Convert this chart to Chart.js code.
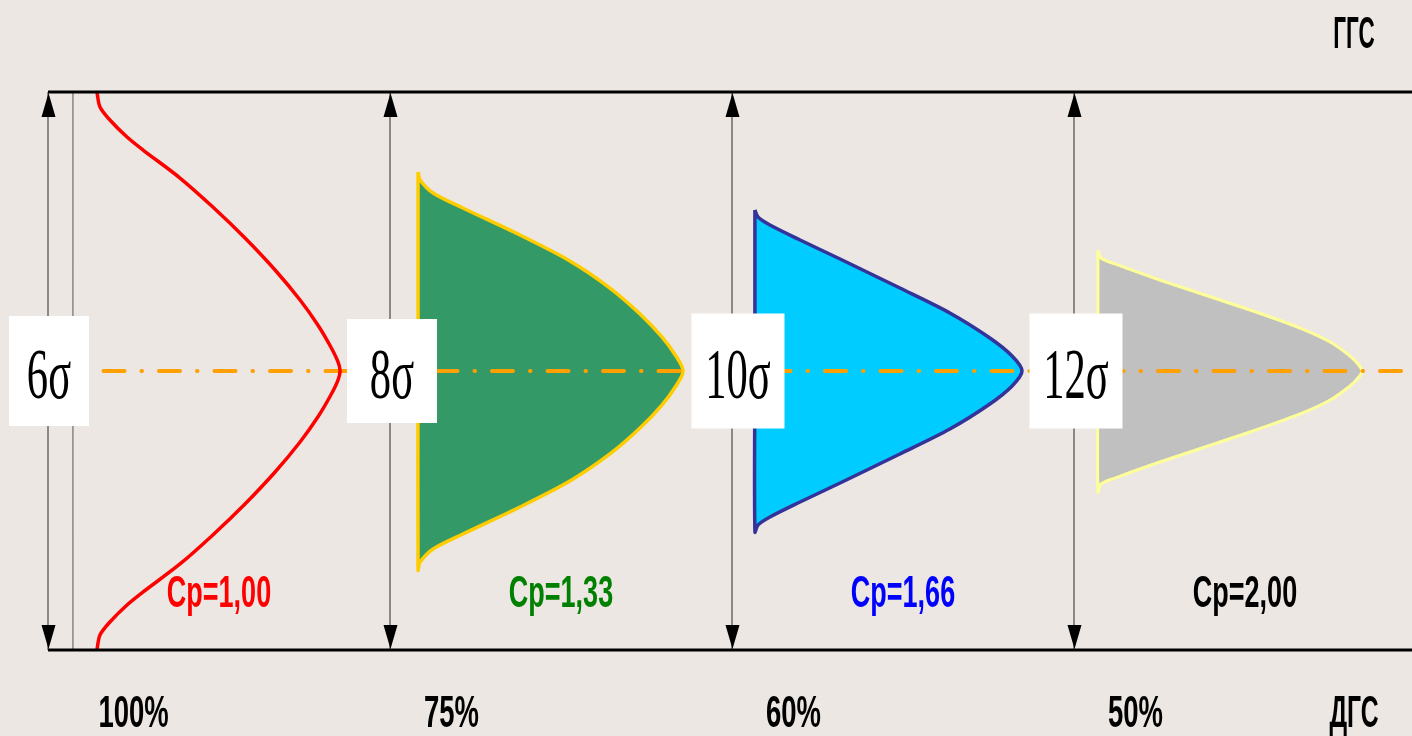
<!DOCTYPE html>
<html>
<head>
<meta charset="utf-8">
<script src="https://cdn.jsdelivr.net/npm/chart.js@4.4.0/dist/chart.umd.min.js"></script>
<style>
    html, body { margin: 0; padding: 0; background: #ece7e2; overflow: hidden; }
    #wrap { width: 1412px; height: 736px; position: relative; }
</style>
</head>
<body>
<div id="wrap"><canvas id="cp-chart"></canvas></div>
<script>
// tolerance field: y from ДГС (-3) to ГГС (+3), x in panel widths (one panel per Cp case)
const sigmaLabels = ['6σ', '8σ', '10σ', '12σ'];
const cpLabels = ['Cp=1,00', 'Cp=1,33', 'Cp=1,66', 'Cp=2,00'];
const cpColors = ['#ff0000', '#008000', '#0000ff', '#000000'];
const shareLabels = ['100%', '75%', '60%', '50%'];
const upperLabel = 'ГГС';
const lowerLabel = 'ДГС';

// upper halves of the distributions, from the top tip down to the peak
const redX = [0.143, 0.152, 0.181, 0.231, 0.278, 0.386, 0.482, 0.576, 0.664, 0.737, 0.789, 0.827, 0.848, 0.854];
const redY = [3.0, 2.839, 2.699, 2.516, 2.376, 2.075, 1.763, 1.430, 1.086, 0.763, 0.495, 0.258, 0.097, 0];

const greenX = [1.082, 1.088, 1.126, 1.213, 1.380, 1.526, 1.643, 1.731, 1.795, 1.836, 1.857];
const greenY = [2.140, 2.054, 1.914, 1.753, 1.462, 1.183, 0.892, 0.613, 0.366, 0.161, 0];

const blueX = [2.067, 2.076, 2.111, 2.199, 2.316, 2.491, 2.637, 2.754, 2.819, 2.848];
const blueY = [1.731, 1.656, 1.570, 1.409, 1.204, 0.892, 0.624, 0.355, 0.161, 0];

const grayX = [3.070, 3.079, 3.120, 3.251, 3.515, 3.661, 3.749, 3.807, 3.833, 3.842];
const grayY = [1.301, 1.215, 1.151, 0.978, 0.656, 0.462, 0.312, 0.161, 0.065, 0];

const X_MAX = 1364 / 342;

function halfPoints(xs, ys) {
    return xs.map((x, i) => ({x: x, y: ys[i]}));
}

// top half + mirrored bottom half
function fullCurve(xs, ys) {
    const top = halfPoints(xs, ys);
    const bottom = top.slice(0, -1).reverse().map(p => ({x: p.x, y: -p.y}));
    return top.concat(bottom);
}

// same, closed along the straight left edge
function closedShape(xs, ys) {
    const pts = fullCurve(xs, ys);
    pts.push({x: xs[0], y: 0});
    pts.push({x: xs[0], y: ys[0]});
    return pts;
}

function lineSet(data, color, width, order, extra) {
    return Object.assign({
        data: data,
        showLine: true,
        borderColor: color,
        borderWidth: width,
        pointRadius: 0,
        fill: false,
        clip: false,
        order: order
    }, extra || {});
}

const datasets = [];

// outer borders of the tolerance field
datasets.push(lineSet([{x: 0, y: 3}, {x: X_MAX, y: 3}], '#000', 3, 1));
datasets.push(lineSet([{x: 0, y: -3}, {x: X_MAX, y: -3}], '#000', 3, 1));

// dimension lines
[0, 1, 2, 3].forEach(i => {
    datasets.push(lineSet([{x: i, y: -3}, {x: i, y: 3}], '#2a2a2a', 1, 6));
});
datasets.push(lineSet([{x: 0.073, y: -3}, {x: 0.073, y: 3}], '#555', 1, 6));

// centre line
datasets.push(lineSet([{x: 0, y: 0}, {x: X_MAX, y: 0}], '#ff9f00', 4, 3, {
    borderDash: [21, 17, 0.5, 17],
    borderCapStyle: 'round'
}));

// Cp = 1.00
datasets.push(lineSet(fullCurve(redX, redY), '#ff0000', 3.5, 2, {tension: 0.3}));

// Cp = 1.33 / 1.66 / 2.00
datasets.push(lineSet(closedShape(greenX, greenY), '#ffcc00', 3.5, 5, {
    tension: 0.3, fill: 'shape', backgroundColor: '#339966', borderJoinStyle: 'round'
}));
datasets.push(lineSet(closedShape(blueX, blueY), '#333399', 3.5, 5, {
    tension: 0.3, fill: 'shape', backgroundColor: '#00ccff', borderJoinStyle: 'round'
}));
datasets.push(lineSet(closedShape(grayX, grayY), '#ffff99', 3, 5, {
    tension: 0.3, fill: 'shape', backgroundColor: '#c0c0c0', borderJoinStyle: 'round'
}));

function drawText(ctx, text, cx, baseline, font, color, sx) {
    ctx.save();
    ctx.translate(cx, baseline);
    ctx.scale(sx, 1);
    ctx.font = font;
    ctx.textAlign = 'center';
    ctx.textBaseline = 'alphabetic';
    ctx.fillStyle = color;
    ctx.fillText(text, 0, 0);
    ctx.restore();
}

const background = {
    id: 'background',
    beforeDraw(chart) {
        const ctx = chart.ctx;
        ctx.save();
        ctx.fillStyle = '#ece7e2';
        ctx.fillRect(0, 0, chart.width, chart.height);
        ctx.restore();
    }
};

const annotations = {
    id: 'annotations',
    afterDatasetsDraw(chart) {
        const ctx = chart.ctx;
        const xs = chart.scales.x;
        const ys = chart.scales.y;
        const top = ys.getPixelForValue(3);
        const bottom = ys.getPixelForValue(-3);
        const mid = ys.getPixelForValue(0);

        // arrow heads on the dimension lines
        ctx.save();
        ctx.fillStyle = '#000';
        [0, 1, 2, 3].forEach(i => {
            const px = xs.getPixelForValue(i) + 0.5;
            ctx.beginPath();
            ctx.moveTo(px, top + 1);
            ctx.lineTo(px - 7, top + 25);
            ctx.lineTo(px + 7, top + 25);
            ctx.closePath();
            ctx.fill();
            ctx.beginPath();
            ctx.moveTo(px, bottom - 1);
            ctx.lineTo(px - 7, bottom - 25);
            ctx.lineTo(px + 7, bottom - 25);
            ctx.closePath();
            ctx.fill();
        });
        ctx.restore();

        // white label boxes with the spread
        const boxW = [80, 90, 93, 93];
        const boxH = [110, 104, 115, 115];
        const boxDx = [1, 2, 6, 2];
        sigmaLabels.forEach((label, i) => {
            const cx = xs.getPixelForValue(i) + boxDx[i];
            ctx.save();
            ctx.fillStyle = '#ffffff';
            ctx.fillRect(cx - boxW[i] / 2, mid - boxH[i] / 2, boxW[i], boxH[i]);
            ctx.restore();
            drawText(ctx, label, cx, mid + 27, '71px "Liberation Serif", "DejaVu Serif", serif', '#000', 0.6);
        });

        const sans = 'bold 45px "Liberation Sans", Arial, sans-serif';
        cpLabels.forEach((label, i) => {
            drawText(ctx, label, xs.getPixelForValue(i + 0.5), ys.getPixelForValue(-2.54), sans, cpColors[i], 0.6);
        });

        const shareDx = [0.25, 0.18, 0.18, 0.18];
        shareLabels.forEach((label, i) => {
            drawText(ctx, label, xs.getPixelForValue(i + shareDx[i]), bottom + 77, sans, '#000', 0.61);
        });

        drawText(ctx, upperLabel, 1354, 48, sans, '#000', 0.5);
        drawText(ctx, lowerLabel, 1354, bottom + 77, sans, '#000', 0.55);
    }
};

new Chart(document.getElementById('cp-chart'), {
    type: 'scatter',
    data: {datasets: datasets},
    options: {
        responsive: true,
        maintainAspectRatio: false,
        animation: false,
        layout: {
            padding: {left: 48, right: 0, top: 92, bottom: 86}
        },
        plugins: {
            legend: {display: false},
            tooltip: {enabled: false}
        },
        scales: {
            x: {type: 'linear', min: 0, max: X_MAX, display: false},
            y: {type: 'linear', min: -3, max: 3, display: false}
        }
    },
    plugins: [background, annotations]
});
</script>
</body>
</html>
